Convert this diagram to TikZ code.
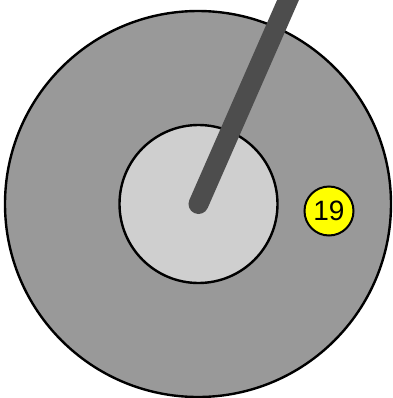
\documentclass[tikz,border=0pt]{standalone}
\usepackage{fontspec}
\setmainfont{Liberation Sans}
\definecolor{dialgray}{HTML}{999999}
\definecolor{hubgray}{HTML}{CFCFCF}
\definecolor{needlegray}{HTML}{4D4D4D}
\definecolor{badgeyellow}{HTML}{FFFF00}
\newcommand{\badgefont}{\fontsize{28bp}{32bp}\selectfont}
\begin{document}
\begin{tikzpicture}[x=1bp,y=-1bp,
  dialstyle/.style={circle,draw=black,line width=2.4bp,fill=dialgray,inner sep=0,minimum size=386bp},
  hubstyle/.style={circle,draw=black,line width=2.4bp,fill=hubgray,inner sep=0,minimum size=158bp},
  needlestyle/.style={line width=20bp,line cap=round,draw=needlegray},
  badgestyle/.style={circle,draw=black,line width=2bp,fill=badgeyellow,inner sep=0,minimum size=49bp,font=\badgefont}]
\useasboundingbox (0,0) rectangle (393,398);
\clip (0,0) rectangle (393,398);
\node[dialstyle] (dial) at (198,204) {};
\node[hubstyle] (hub) at (198.5,204) {};
\coordinate (tip) at (299,-25);
\draw[needlestyle] (198.5,204) -- (tip);
\node[badgestyle] (num) at (329,211) {19};
\end{tikzpicture}
\end{document}
